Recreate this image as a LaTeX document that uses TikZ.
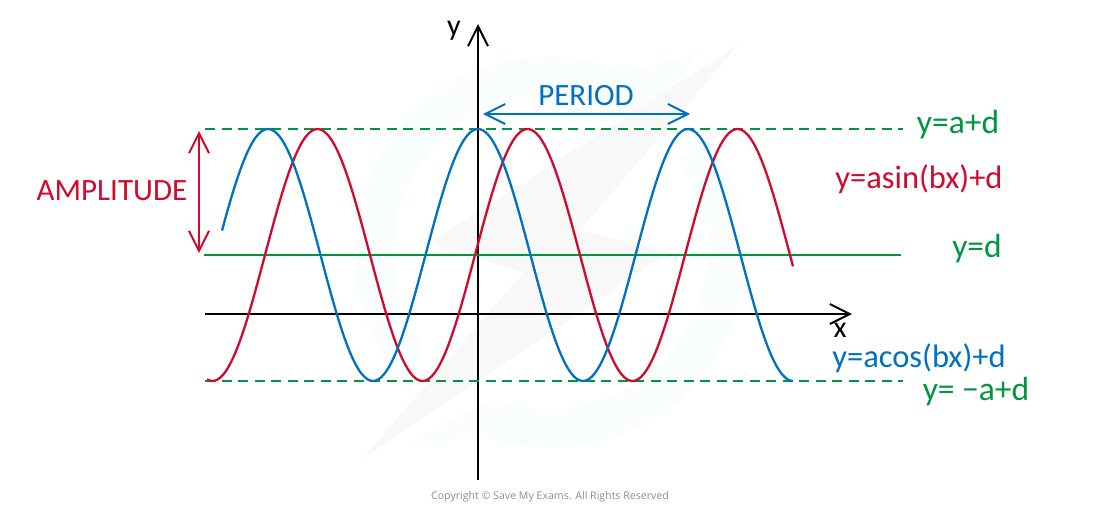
\documentclass[tikz,border=0pt]{standalone}
\usepackage{fontspec}
\setmainfont{Carlito}
\newfontfamily\copyfont{Open Sans}
\usetikzlibrary{arrows.meta}

\definecolor{curvered}{HTML}{CF0A2C}
\definecolor{curveblue}{HTML}{0070C0}
\definecolor{linegreen}{HTML}{009640}
\definecolor{markblue}{HTML}{FAFDFE}
\definecolor{markgrey}{HTML}{F8F8F8}

\tikzset{
  barb/.style={-{Straight Barb[length=20pt,width=20pt,line width=2pt]}},
  twobarb/.style={{Straight Barb[length=20pt,width=20pt,line width=2pt]}-{Straight Barb[length=20pt,width=20pt,line width=2pt]}},
  axisline/.style={draw=black,line width=2pt,barb},
  levelline/.style={draw=linegreen,line width=2.2pt},
  bound/.style={levelline,dash pattern=on 10pt off 6.5pt},
  wave/.style={line width=2.3pt,samples=220,smooth},
  capstext/.style={font=\fontsize{31}{31}\selectfont,inner sep=0pt},
  formula/.style={font=\fontsize{32.5}{33}\selectfont,inner sep=0pt},
  levelname/.style={text=linegreen,font=\fontsize{33.5}{34}\selectfont,inner sep=0pt},
  axistext/.style={font=\fontsize{30}{30}\selectfont,inner sep=0pt},
}

\begin{document}
\begin{tikzpicture}[x=1pt,y=-1pt]
        \useasboundingbox (0,0) rectangle (1100,504);

        \fill[markblue] plot[domain=225:80,samples=40] ({550+196*cos(\x)},{252-196*sin(\x)})
          .. controls (600,62) and (615,72) .. (627,70)
          .. controls (650,66) and (680,58) .. (700,52)
          -- plot[domain=55:215,samples=40] ({550+157*cos(\x)},{252-157*sin(\x)}) -- cycle;
        \fill[markblue] (407,448) .. controls (440,440) and (470,436) .. (499,441)
          -- plot[domain=255:395,samples=40] ({550+196*cos(\x)},{252-196*sin(\x)})
          -- plot[domain=395:250,samples=40] ({550+157*cos(\x)},{252-157*sin(\x)})
          .. controls (470,408) and (440,425) .. (407,448) -- cycle;
        \fill[markgrey] (738,45) -- (430,243) -- (523,273) -- (363,458) -- (670,252) -- (580,230) -- cycle;

        \coordinate (yaxisfoot) at (478,480);
        \coordinate (yaxistip) at (478,24);
        \coordinate (xaxisfoot) at (205,314);
        \coordinate (xaxistip) at (852,314);
        \coordinate (topleft) at (205,129);
        \coordinate (topright) at (903,129);
        \coordinate (midleft) at (204,255);
        \coordinate (midright) at (901,255);
        \coordinate (lowleft) at (205,381);
        \coordinate (lowright) at (903,381);
        \coordinate (ampltop) at (199,131);
        \coordinate (ampllow) at (199,253);
        \coordinate (periodl) at (483,114);
        \coordinate (periodr) at (690,114);

        \draw[axisline] (yaxisfoot) -- (yaxistip);
        \draw[axisline] (xaxisfoot) -- (xaxistip);
        \draw[bound] (topleft) -- (topright);
        \draw[bound] (lowleft) -- (lowright);
        \draw[levelline] (midleft) -- (midright);

        \draw[wave,curvered,domain=207:793] plot (\x,{255-126*cos(1.714286*(\x-527.5))});
        \draw[wave,curveblue,domain=222:793] plot (\x,{255-126*cos(1.714286*(\x-478))});

        \draw[twobarb,curvered,line width=2pt] (ampltop) -- (ampllow);
        \draw[twobarb,curveblue,line width=2pt] (periodl) -- (periodr);

        \node[axistext] (ylabel) at (454,31) {y};
        \node[axistext] (xlabel) at (840,330) {x};
        \node[capstext,text=curvered] (amplitude) at (112,191) {AMPLITUDE};
        \node[capstext,text=curveblue] (period) at (586,96) {PERIOD};
        \node[levelname] (topname) at (958,125) {y=a+d};
        \node[formula,text=curvered] (sinname) at (919,179) {y=asin(bx)+d};
        \node[levelname] (midname) at (977,249) {y=d};
        \node[formula,text=curveblue] (cosname) at (919,358) {y=acos(bx)+d};
        \node[levelname] (lowname) at (976,392) {y= −a+d};
        \node[text=black!45,font=\copyfont\fontsize{10.6}{12}\selectfont,inner sep=0pt] (copyright) at (550,497) {Copyright © Save My Exams. All Rights Reserved};
\end{tikzpicture}
\end{document}
